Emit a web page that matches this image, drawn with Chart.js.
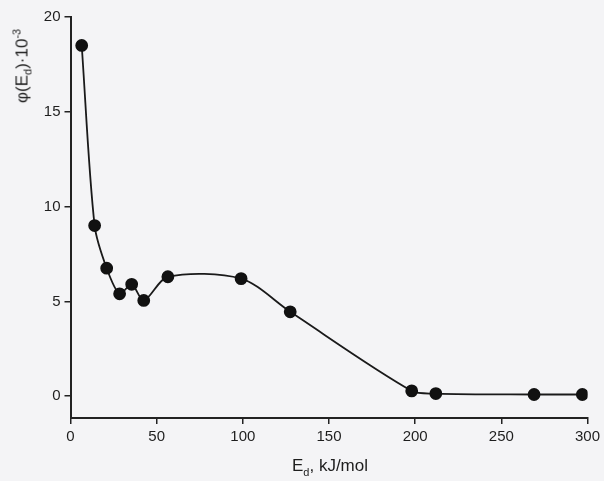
<!DOCTYPE html>
<html>
<head>
<meta charset="utf-8">
<script src="https://cdn.jsdelivr.net/npm/chart.js@4"></script>
<style>
body{margin:0;background:#f4f4f6;}
#wrap{position:relative;width:604px;height:481px;}
#c{position:absolute;left:0;top:0;}
.lbl{position:absolute;font-family:"Liberation Sans",Arial,sans-serif;font-size:17px;color:#1e1e1e;white-space:nowrap;}
#ylab{left:22px;top:66px;transform:translate(-50%,-50%) rotate(-90deg);}
#xlab{left:330px;top:467px;transform:translate(-50%,-50%);}
sub,sup{font-size:11px;}
</style>
</head>
<body>
<div id="wrap">
<canvas id="c" width="604" height="481"></canvas>
<div class="lbl" id="ylab">φ(E<sub>d</sub>)·10<sup>-3</sup></div>
<div class="lbl" id="xlab">E<sub>d</sub>, kJ/mol</div>
</div>
<script>
// E_d, kJ/mol
const ed = [6.5, 14, 21, 28.5, 35.5, 42.5, 56.5, 99, 127.5, 198, 212, 269, 297]
// phi(E_d) * 10^-3
const phi = [18.5, 9.0, 6.75, 5.4, 5.9, 5.05, 6.3, 6.2, 4.45, 0.28, 0.14, 0.09, 0.09]

const xTicks = [0, 50, 100, 150, 200, 250, 300]
const yTicks = [0, 5, 10, 15, 20]

const points = ed.map((x, i) => ({x: x, y: phi[i]}))

const ctx = document.getElementById("c")

new Chart(ctx, {
  type: "scatter",
  data: {
    datasets: [{
      data: points,
      showLine: true,
      borderColor: "#1a1a1a",
      borderWidth: 1.8,
      tension: 0.3,
      pointRadius: 5.5,
      pointBackgroundColor: "#111",
      pointBorderColor: "#111",
      fill: false
    }]
  },
  options: {
    responsive: false,
    animation: false,
    layout: {padding: {top: 17, right: 15, left: 0, bottom: 0}},
    plugins: {legend: {display: false}, tooltip: {enabled: false}},
    scales: {
      x: {
        type: "linear",
        min: 0, max: 300,
        afterBuildTicks: s => { s.ticks = xTicks.map(v => ({value: v})) },
        afterFit: s => { s.height = 63 },
        grid: {drawOnChartArea: false, drawTicks: true, tickLength: 6, color: "#222", lineWidth: 1.5},
        border: {display: true, color: "#222", width: 2},
        ticks: {color: "#1e1e1e", font: {family: "Liberation Sans", size: 15}, padding: 4, maxRotation: 0}
      },
      y: {
        min: -1.15, max: 20,
        afterBuildTicks: s => { s.ticks = yTicks.map(v => ({value: v})) },
        afterFit: s => { s.width = 70.5 },
        grid: {drawOnChartArea: false, drawTicks: true, tickLength: 6, color: "#222", lineWidth: 1.5},
        border: {display: true, color: "#222", width: 2},
        ticks: {color: "#1e1e1e", font: {family: "Liberation Sans", size: 15}, padding: 4}
      }
    }
  }
})
</script>
</body>
</html>
